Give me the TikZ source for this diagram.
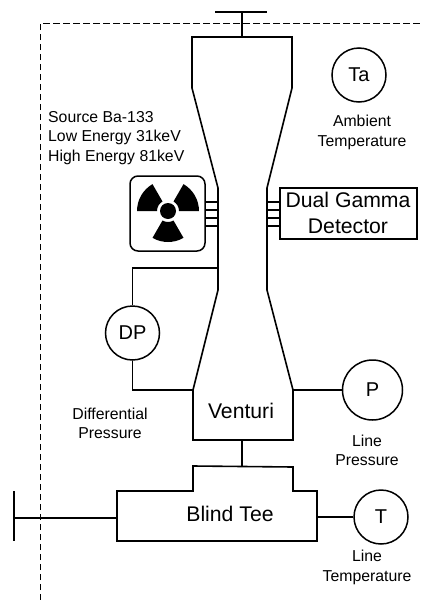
\documentclass[tikz,border=0pt]{standalone}
\usepackage{fontspec}
\setmainfont{Liberation Sans}
\tikzset{
  pipe/.style={draw=black,line width=1.6pt,line join=miter},
  gauge/.style={circle,draw=black,line width=1.5pt,inner sep=0pt,minimum size=54pt,font=\fontsize{20}{24}\selectfont},
  lab/.style={inner sep=0pt,align=center,font=\fontsize{15.8}{19.3}\selectfont},
  big/.style={inner sep=0pt,align=center,font=\fontsize{21.2}{26}\selectfont},
  beam/.style={draw=black,line width=1.3pt},
}
\begin{document}
\begin{tikzpicture}[x=1pt,y=-1pt]
\useasboundingbox (0,0) rectangle (423,600);
% boundary
\coordinate (bl) at (40,600);
\coordinate (tl) at (40,23);
\coordinate (tr) at (423,23);
\draw[black,line width=1pt,dash pattern=on 6.5pt off 3.5pt] (bl) -- (tl) -- (tr);
% venturi body
\coordinate (vt) at (242,37);
\coordinate (vb) at (242,440);
\coordinate (vl) at (193,390);
\coordinate (vr) at (293,390);
\coordinate (vna) at (218,268);
\draw[pipe] (vt) -- (292,37) -- (292,88) -- (267,188) -- (267,290) -- (293,390) -- (293,440) -- (193,440) -- (193,390) -- (218,290) -- (218,188) -- (192,88) -- (192,37) -- cycle;
\node[big] (venturi) at (241,411) {Venturi};
% top flange
\coordinate (fa) at (215,12);
\coordinate (fb) at (267,12);
\coordinate (fc) at (242,12);
\draw[pipe] (fa) -- (fb);
\draw[pipe] (fc) -- (vt);
% source
\node[draw=black,line width=1.5pt,rounded corners=8pt,minimum width=75pt,minimum height=75pt,inner sep=0pt] (src) at (167.5,213.5) {};
\begin{scope}[shift={(168,211)},yscale=-1]
  \fill[black] (0,0) circle (8);
  \fill[black] (120:11) -- (120:31) arc (120:180:31) -- (180:11) arc (180:120:11) -- cycle;
  \fill[black] (0:11) -- (0:31) arc (0:60:31) -- (60:11) arc (60:0:11) -- cycle;
  \fill[black] (240:11) -- (240:31) arc (240:300:31) -- (300:11) arc (300:240:11) -- cycle;
\end{scope}
\foreach \yy in {202,210,218,226}{
  \draw[beam] (205,\yy) -- (218,\yy);
  \draw[beam] (267,\yy) -- (280,\yy);
}
\node[inner sep=0pt,align=left,anchor=west,font=\fontsize{15.8}{19.5}\selectfont] (srctxt) at (48,138) {Source Ba-133\\Low Energy 31keV\\High Energy 81keV};
% detector
\node[draw=black,line width=1.5pt,minimum width=137pt,minimum height=51pt,inner sep=0pt] (det) at (348.5,213.5) {};
\node[big] (dettxt) at (348,213) {Dual Gamma\\Detector};
% ambient
\node[gauge] (ta) at (359,75) {Ta};
\node[lab] (talab) at (362,132.5) {Ambient\\Temperature};
% DP
\node[gauge] (dp) at (132.5,333) {DP};
\draw[pipe] (dp.north) |- (vna);
\draw[pipe] (dp.south) |- (vl);
\node[lab] (dplab) at (110,423) {Differential\\Pressure};
% P
\node[gauge,minimum size=60pt] (p) at (372.5,390) {P};
\draw[pipe] (vr) -- (p.west);
\node[lab] (plab) at (367,450.5) {Line\\Pressure};
% blind tee
\coordinate (tt) at (242,466);
\coordinate (tl2) at (117,518);
\coordinate (tr2) at (317,517);
\draw[pipe] (117,541) -- (117,491) -- (193,491) -- (193,466) -- (293,467) -- (293,491) -- (317,491) -- (317,541) -- cycle;
\node[big] (tee) at (230,514) {Blind Tee};
\draw[pipe] (vb) -- (tt);
% left flange
\coordinate (la) at (14,491);
\coordinate (lb) at (14,541);
\coordinate (lc) at (14,518);
\draw[pipe] (la) -- (lb);
\draw[pipe] (lc) -- (tl2);
% T
\node[gauge] (t) at (381,517) {T};
\draw[pipe] (tr2) -- (t.west);
\node[lab] (tlab) at (367,567.5) {Line\\Temperature};
\end{tikzpicture}
\end{document}
